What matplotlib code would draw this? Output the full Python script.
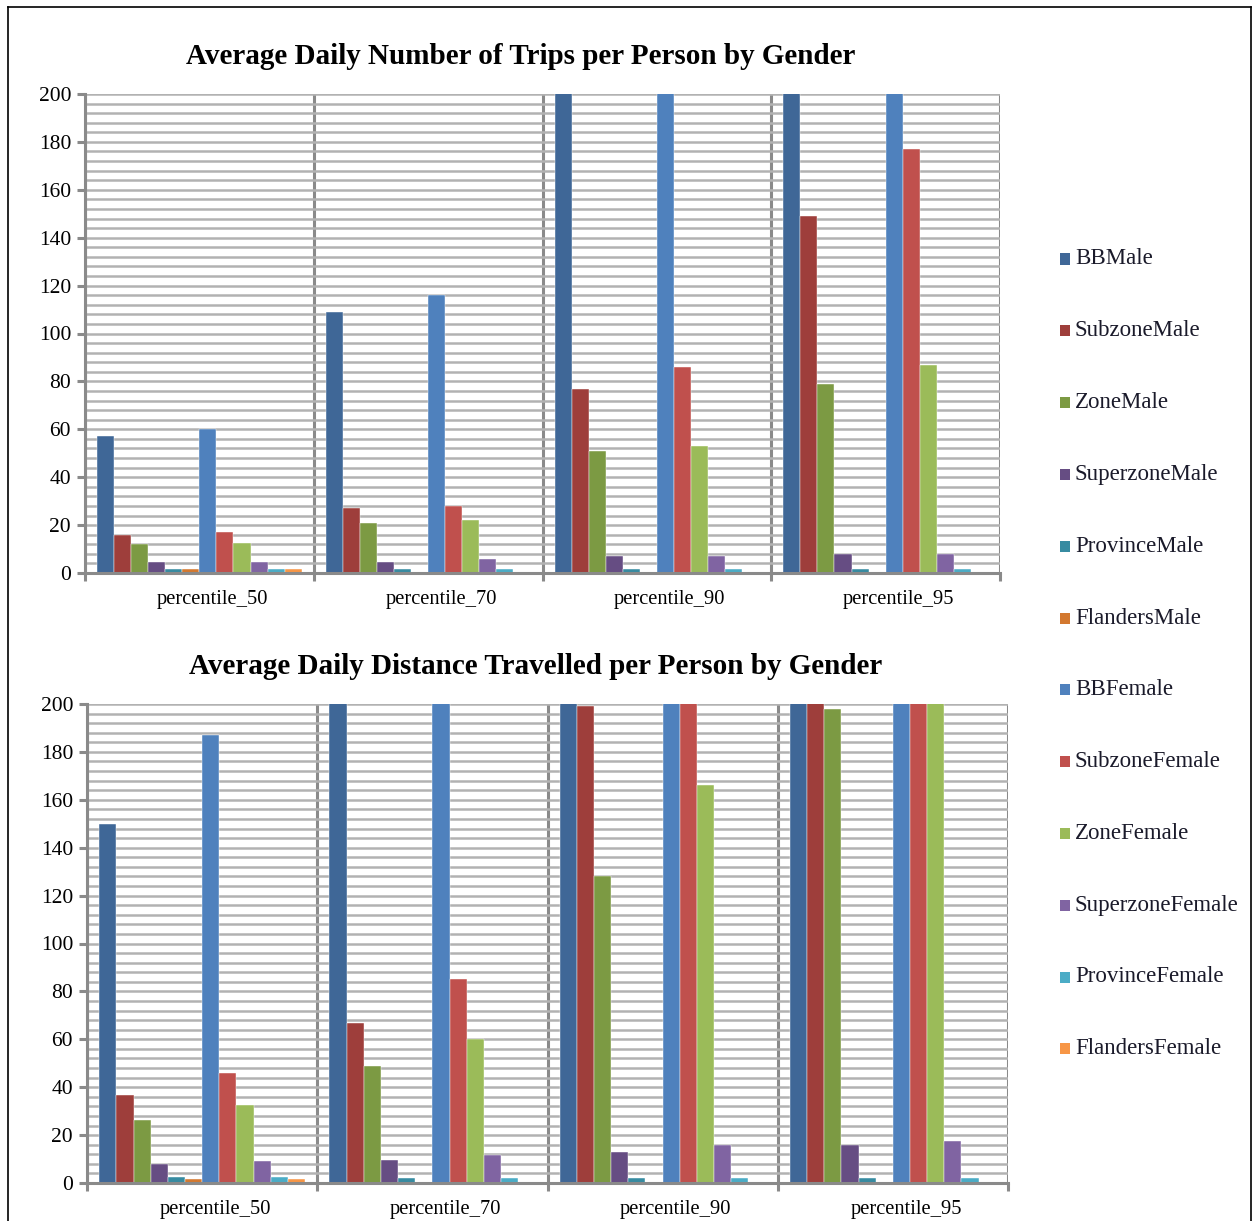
import matplotlib
matplotlib.use("Agg")
import matplotlib.pyplot as plt
from matplotlib.ticker import MultipleLocator, FixedLocator
from matplotlib.patches import Rectangle
from matplotlib.lines import Line2D
import numpy as np

plt.rcParams['font.family'] = ['Liberation Serif', 'DejaVu Serif']

# ---- data ----
percentiles = ["percentile_50", "percentile_70", "percentile_90", "percentile_95"]
series = ["BBMale", "SubzoneMale", "ZoneMale", "SuperzoneMale", "ProvinceMale", "FlandersMale",
          "BBFemale", "SubzoneFemale", "ZoneFemale", "SuperzoneFemale", "ProvinceFemale", "FlandersFemale"]
colors = ["#3F6797", "#9E3E3B", "#7C9A43", "#664D83", "#378BA1", "#D3782F",
          "#4F81BD", "#C0504D", "#9BBB59", "#8064A2", "#4BACC6", "#F79646"]

# trips per person (values above 200 run off the axis)
trips_bb_male       = [57, 109, 230, 260]
trips_subzone_male  = [16, 27, 77, 149]
trips_zone_male     = [12, 21, 51, 79]
trips_superzone_male = [4.5, 4.5, 7, 8]
trips_province_male = [1.5, 1.5, 1.5, 1.5]
trips_flanders_male = [1.5, 0, 0, 0]
trips_bb_female       = [60, 116, 240, 270]
trips_subzone_female  = [17, 28, 86, 177]
trips_zone_female     = [12.5, 22, 53, 87]
trips_superzone_female = [4.5, 6, 7, 8]
trips_province_female = [1.5, 1.5, 1.5, 1.5]
trips_flanders_female = [1.5, 0, 0, 0]

# distance per person (values above 200 run off the axis)
dist_bb_male       = [150, 240, 330, 400]
dist_subzone_male  = [36.7, 67, 199, 260]
dist_zone_male     = [26.3, 49, 128, 198]
dist_superzone_male = [8, 9.6, 13, 16]
dist_province_male = [2.5, 2, 2, 2]
dist_flanders_male = [1.8, 0, 0, 0]
dist_bb_female       = [187, 250, 340, 420]
dist_subzone_female  = [46, 85, 215, 290]
dist_zone_female     = [32.6, 60, 166, 230]
dist_superzone_female = [9, 11.7, 16, 17.5]
dist_province_female = [2.5, 2, 2, 2]
dist_flanders_female = [1.8, 0, 0, 0]

trips = [trips_bb_male, trips_subzone_male, trips_zone_male, trips_superzone_male,
         trips_province_male, trips_flanders_male, trips_bb_female, trips_subzone_female,
         trips_zone_female, trips_superzone_female, trips_province_female, trips_flanders_female]
dist = [dist_bb_male, dist_subzone_male, dist_zone_male, dist_superzone_male,
        dist_province_male, dist_flanders_male, dist_bb_female, dist_subzone_female,
        dist_zone_female, dist_superzone_female, dist_province_female, dist_flanders_female]

W, H = 1257, 1221
fig = plt.figure(figsize=(W / 100, H / 100), dpi=100)

GRID_LIGHT = "#b2b2b2"
GRID_DARK = "#8a8a8a"
n_series = len(series)
bar_w = 0.0745
margin = (1 - n_series * bar_w) / 2


def draw_panel(ax, data):
    for k, vals in enumerate(data):
        x = np.arange(len(percentiles)) + margin + (k + 0.5) * bar_w
        ax.bar(x, vals, width=bar_w, color=colors[k], edgecolor="#ffffff",
               linewidth=0.3, zorder=3)
    ax.set_xlim(0, len(percentiles))
    ax.set_ylim(0, 200)
    ax.yaxis.set_major_locator(MultipleLocator(20))
    ax.yaxis.set_minor_locator(MultipleLocator(4))
    ax.grid(axis="y", which="both", color=GRID_LIGHT, linewidth=1.8, zorder=0)
    ax.xaxis.set_major_locator(FixedLocator(np.arange(len(percentiles) + 1)))
    ax.xaxis.set_minor_locator(FixedLocator(np.arange(len(percentiles)) + 0.557))
    ax.set_xticklabels([], minor=False)
    ax.set_xticklabels(percentiles, minor=True)
    ax.grid(axis="x", which="major", color=GRID_DARK, linewidth=2.2, zorder=1)
    ax.tick_params(axis="x", which="major", length=6, width=2.2, color=GRID_DARK, direction="out")
    ax.tick_params(axis="x", which="minor", length=0, pad=12, labelsize=14.8)
    ax.tick_params(axis="y", which="major", length=6, width=2.2, color=GRID_DARK,
                   direction="out", pad=4, labelsize=15.5)
    ax.tick_params(axis="y", which="minor", length=0)
    for side in ("top", "right"):
        ax.spines[side].set_visible(False)
    for side in ("left", "bottom"):
        ax.spines[side].set_color(GRID_DARK)
        ax.spines[side].set_linewidth(2.2)
        ax.spines[side].set_zorder(4)
    ax.set_axisbelow(True)


ax1 = fig.add_axes([85 / W, 1 - 573 / H, 915 / W, 479 / H])
draw_panel(ax1, trips)
ax2 = fig.add_axes([87 / W, 1 - 1183 / H, 921 / W, 479 / H])
draw_panel(ax2, dist)

fig.text(521 / W, 1 - 57 / H, "Average Daily Number of Trips per Person by Gender",
         ha="center", va="center", fontsize=21, fontweight="bold")
fig.text(535.5 / W, 1 - 667 / H, "Average Daily Distance Travelled per Person by Gender",
         ha="center", va="center", fontsize=21, fontweight="bold")

# legend down the right-hand side
for k, name in enumerate(series):
    yc = 259 + k * 71.8
    fig.add_artist(Rectangle((1060 / W, 1 - (yc + 5.5) / H), 10 / W, 11 / H,
                             transform=fig.transFigure, facecolor=colors[k],
                             edgecolor="none"))
    fig.text(1075 / W, 1 - yc / H, name, ha="left", va="center", fontsize=16.5,
             color="#1a1a2a")

# outer frame
frame_kw = dict(color="black", linewidth=1.2, transform=fig.transFigure)
fig.add_artist(Line2D([8 / W, 1251 / W], [1 - 7 / H, 1 - 7 / H], **frame_kw))
fig.add_artist(Line2D([8 / W, 8 / W], [1 - 7 / H, 0], **frame_kw))
fig.add_artist(Line2D([1251 / W, 1251 / W], [1 - 7 / H, 0], **frame_kw))

fig.savefig("out.png", dpi=100)
